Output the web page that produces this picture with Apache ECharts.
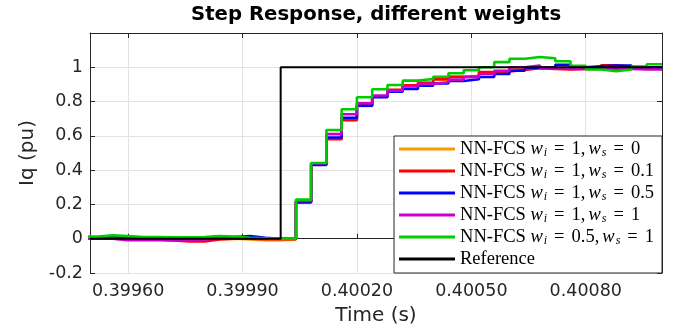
<!DOCTYPE html>
<html>
<head>
<meta charset="utf-8">
<script src="https://cdn.jsdelivr.net/npm/echarts@6/dist/echarts.min.js"></script>
<style>
  html, body { margin: 0; padding: 0; background: #fff; }
  #main { width: 677px; height: 325px; }
</style>
</head>
<body>
<div id="main"></div>
<script>
// sample instants (40 us controller period)
const time = [0.39948, 0.39952, 0.39956, 0.39960, 0.39964, 0.39968, 0.39972, 0.39976, 0.39980, 0.39984,
  0.39988, 0.39992, 0.39996, 0.40000, 0.40004, 0.40008, 0.40012, 0.40016, 0.40020, 0.40024,
  0.40028, 0.40032, 0.40036, 0.40040, 0.40044, 0.40048, 0.40052, 0.40056, 0.40060, 0.40064,
  0.40068, 0.40072, 0.40076, 0.40080, 0.40084, 0.40088, 0.40092, 0.40096, 0.40100]

const iqW1S0 = [0.0, 0.0, -0.002, -0.003, -0.003, -0.004, -0.005, -0.004, -0.002, 0.0,
  -0.005, -0.008, -0.008, -0.005, 0.218, 0.438, 0.585, 0.69, 0.775, 0.828,
  0.866, 0.893, 0.908, 0.928, 0.944, 0.95, 0.97, 0.978, 0.99, 0.998,
  0.995, 0.99, 0.992, 0.995, 1.005, 1.0, 1.0, 0.998, 0.998]
const iqW1S01 = [0.0, 0.0, -0.002, -0.005, -0.005, -0.01, -0.016, -0.016, -0.005, 0.0,
  0.0, -0.003, -0.003, -0.003, 0.215, 0.435, 0.58, 0.693, 0.78, 0.83,
  0.868, 0.895, 0.91, 0.93, 0.945, 0.948, 0.972, 0.975, 0.985, 0.995,
  0.99, 0.988, 0.99, 0.995, 1.012, 1.005, 1.0, 0.995, 0.995]
const iqW1S05 = [0.005, 0.008, 0.005, 0.002, 0.0, 0.0, 0.002, 0.004, 0.008, 0.01,
  0.015, 0.005, 0.0, 0.0, 0.212, 0.43, 0.59, 0.706, 0.776, 0.825,
  0.858, 0.874, 0.893, 0.905, 0.92, 0.93, 0.943, 0.961, 0.98, 0.998,
  1.0, 1.014, 1.0, 1.006, 1.01, 1.01, 0.998, 1.0, 1.0]
const iqW1S1 = [0.0, 0.0, -0.008, -0.008, -0.008, -0.01, -0.01, -0.005, 0.0, 0.0,
  0.002, 0.0, 0.0, 0.0, 0.22, 0.44, 0.61, 0.726, 0.79, 0.835,
  0.864, 0.889, 0.903, 0.913, 0.928, 0.942, 0.961, 0.98, 1.0, 1.01,
  0.995, 0.99, 0.99, 0.99, 0.99, 0.99, 0.988, 0.988, 0.99]
const iqW05S1 = [0.012, 0.02, 0.015, 0.01, 0.01, 0.008, 0.008, 0.01, 0.016, 0.012,
  0.006, 0.003, 0.0, 0.0, 0.228, 0.442, 0.634, 0.755, 0.825, 0.872,
  0.897, 0.922, 0.932, 0.945, 0.965, 0.983, 1.0, 1.03, 1.05, 1.06,
  1.053, 1.035, 1.008, 0.988, 0.977, 0.988, 1.005, 1.018, 1.018]

const refTime = [0.3995, 0.4, 0.4, 0.401]
const refValue = [0, 0, 1, 1]

const xTicks = [0.3996, 0.3999, 0.4002, 0.4005, 0.4008]

const names = ['orange', 'red', 'blue', 'magenta', 'green', 'Reference']
// legend labels: NN-FCS w_i = a, w_s = b (LaTeX-like)
const wiVals = { orange: '1', red: '1', blue: '1', magenta: '1', green: '0.5' }
const wsVals = { orange: '0', red: '0.1', blue: '0.5', magenta: '1', green: '1' }
const legendLabel = n => {
  if (n === 'Reference') return '{n|Reference}'
  return '{n|NN-FCS }{w|w}{s|i}{e|=}{n|' + wiVals[n] + ',}{c|}{w|w}{s|s}{e|=}{n|' + wsVals[n] + '}'
}

const zip = (a, b) => a.map((v, i) => [v, b[i]])

const stepSeries = (name, vals, color) => ({
  name: name,
  type: 'line',
  step: 'end',
  symbol: 'none',
  data: zip(time, vals),
  lineStyle: { color: color, width: 2.6 },
  itemStyle: { color: color }
})

const chart = echarts.init(document.getElementById('main'), null, { renderer: 'canvas' })

const axisColor = '#262626'
const font = 'DejaVu Sans'
const serif = 'Liberation Serif'

const option = {
  backgroundColor: '#ffffff',
  animation: false,
  title: {
    text: 'Step Response, different weights',
    left: 191,
    top: 5,
    padding: 0,
    textStyle: { fontFamily: font, fontSize: 19.7, fontWeight: 'bold', color: '#000' }
  },
  grid: { left: 90, right: 15, top: 33, bottom: 52, containLabel: false, outerBoundsMode: 'none' },
  legend: {
    orient: 'vertical',
    right: 15,
    bottom: 52,
    data: names,
    icon: 'rect',
    itemWidth: 56,
    itemHeight: 3,
    itemGap: 2,
    padding: [3, 8, 4, 5],
    backgroundColor: '#ffffff',
    borderColor: axisColor,
    borderWidth: 1,
    borderRadius: 0,
    formatter: legendLabel,
    textStyle: {
      color: '#000',
      lineHeight: 20,
      rich: {
        n: { fontFamily: serif, fontSize: 18.5, lineHeight: 20, color: '#000' },
        w: { fontFamily: serif, fontStyle: 'italic', fontSize: 18.5, lineHeight: 20, color: '#000' },
        s: { fontFamily: serif, fontStyle: 'italic', fontSize: 12, lineHeight: 11, color: '#000', padding: [8, 0, 0, 1] },
        e: { fontFamily: serif, fontSize: 18.5, lineHeight: 20, color: '#000', padding: [0, 7, 0, 7] },
        c: { width: 3, lineHeight: 20 }
      }
    }
  },
  xAxis: [{
    type: 'value',
    min: 0.3995,
    max: 0.401,
    name: 'Time (s)',
    nameLocation: 'middle',
    nameGap: 33,
    nameTextStyle: { fontFamily: font, fontSize: 20, color: axisColor },
    axisLine: { show: true, lineStyle: { color: axisColor, width: 1 } },
    axisTick: { show: true, inside: true, length: 5, customValues: xTicks, lineStyle: { color: axisColor } },
    axisLabel: {
      customValues: xTicks,
      formatter: v => v.toFixed(5),
      fontFamily: font, fontSize: 17.5, color: axisColor, margin: 9
    },
    splitLine: { show: true, lineStyle: { color: '#e3e3e3', width: 1 } }
  }, {
    type: 'value',
    position: 'top',
    min: 0.3995,
    max: 0.401,
    axisLine: { show: true, onZero: false, lineStyle: { color: axisColor, width: 1 } },
    axisTick: { show: true, inside: true, length: 5, customValues: xTicks, lineStyle: { color: axisColor } },
    axisLabel: { show: false },
    splitLine: { show: false }
  }],
  yAxis: [{
    type: 'value',
    min: -0.2,
    max: 1.2,
    interval: 0.2,
    name: 'Iq (pu)',
    nameLocation: 'middle',
    nameGap: 46,
    nameTextStyle: { fontFamily: font, fontSize: 20, color: axisColor },
    axisLine: { show: true, onZero: false, lineStyle: { color: axisColor, width: 1 } },
    axisTick: { show: true, inside: true, length: 5, lineStyle: { color: axisColor } },
    axisLabel: {
      formatter: v => (v > 1.1 ? '' : String(Math.round(v * 10) / 10)),
      fontFamily: font, fontSize: 17.5, color: axisColor, margin: 7
    },
    splitLine: { show: true, lineStyle: { color: '#e3e3e3', width: 1 } }
  }, {
    type: 'value',
    position: 'right',
    min: -0.2,
    max: 1.2,
    interval: 0.2,
    axisLine: { show: true, onZero: false, lineStyle: { color: axisColor, width: 1 } },
    axisTick: { show: true, inside: true, length: 5, lineStyle: { color: axisColor } },
    axisLabel: { show: false },
    splitLine: { show: false }
  }],
  series: [
    stepSeries('orange', iqW1S0, '#ff9900'),
    stepSeries('red', iqW1S01, '#ff0000'),
    stepSeries('blue', iqW1S05, '#0000ff'),
    stepSeries('magenta', iqW1S1, '#cc00cc'),
    stepSeries('green', iqW05S1, '#00cc00'),
    {
      name: 'Reference',
      type: 'line',
      symbol: 'none',
      data: zip(refTime, refValue),
      lineStyle: { color: '#000000', width: 2 },
      itemStyle: { color: '#000000' }
    }
  ]
}

chart.setOption(option)
</script>
</body>
</html>
